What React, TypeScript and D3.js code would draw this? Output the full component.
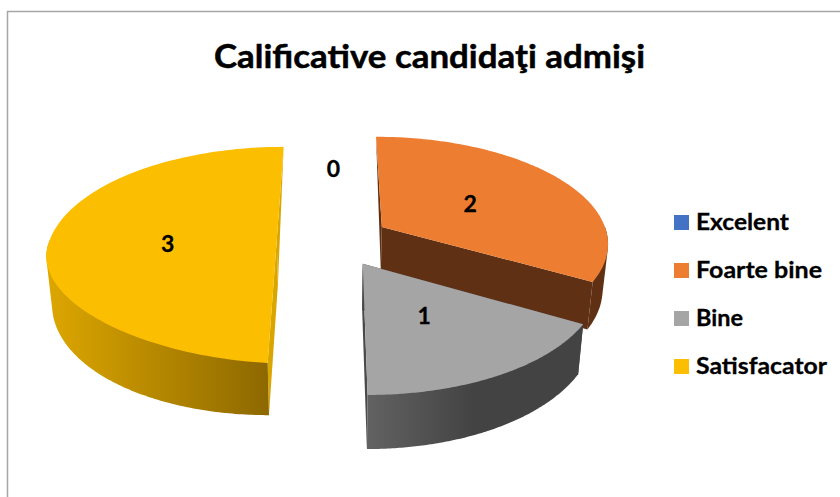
import React from "react";
import * as d3 from "d3";

const categories = ["Excelent", "Foarte bine", "Bine", "Satisfacator"];
const values = [0, 2, 1, 3];
const topColors = ["#4472C4", "#ED7D31", "#A5A5A5", "#FBBE00"];
const wallStops: string[][] = [
  ["#2A4A80", "#2A4A80"],
  ["#5F3013", "#5F3013"],
  ["#626262", "#434343", "#434343"],
  ["#DCA600", "#8D6800"],
];
const radialColors = ["#2A4A80", "#5F3013", "#4A4A4A", "#D9A600"];
const wallRanges: [number, number][] = [
  [0, 1],
  [585, 608],
  [367, 580],
  [50, 269],
];
const titleText = "Calificative candidaţi admişi";
const legendY = [230, 278, 326, 374];
const legendWidths = [93, 126, 47, 131];
const labelDy = [7, 9, 11, 12];

const W = 840;
const H = 497;
const X0 = 333.5;
const Y0 = 240;
const UX = 227;
const VY = 106;
const PERSP = 0.138;
const EXPLODE = 0.25;
const DEPTH = 45;
const BOTTOM_SCALE = 0.98;
const LABEL_R = 0.48;
const LEFT_FLATTEN = 14;

type P = [number, number];

function project(u: number, v: number, lower: boolean): P {
  const w = 1 - PERSP * v;
  const xTop = (UX * u) / w;
  const yTop = (VY * v) / w;
  if (lower) return [X0 + xTop * BOTTOM_SCALE, Y0 + yTop + DEPTH / w];
  const flatten = LEFT_FLATTEN * Math.max(0, v) * Math.max(0, -u - 0.25);
  return [X0 + xTop, Y0 + yTop - flatten];
}

const pieGen = d3
  .pie<number>()
  .sort(null)
  .value((d) => d);
const arcs = pieGen(values);
const line = d3.line<P>();

function offset(a: d3.PieArcDatum<number>): P {
  const mid = (a.startAngle + a.endAngle) / 2;
  return [EXPLODE * Math.sin(mid), -EXPLODE * Math.cos(mid)];
}
function onSlice(a: d3.PieArcDatum<number>, theta: number, r: number, lower: boolean): P {
  const [ou, ov] = offset(a);
  return project(ou + r * Math.sin(theta), ov - r * Math.cos(theta), lower);
}
function arcPts(a: d3.PieArcDatum<number>, from: number, to: number, lower: boolean): P[] {
  const n = 120;
  return d3.range(n + 1).map((i) => onSlice(a, from + ((to - from) * i) / n, 1, lower));
}

export default function App() {
  const font = "Lato, Carlito, sans-serif";
  return (
    <svg
      width={W}
      height={H}
      viewBox={`0 0 ${W} ${H}`}
      style={{ position: "fixed", left: 0, top: 0, background: "#fff" }}
    >
      <defs>
        {arcs.map((a, i) => (
          <linearGradient
            key={i}
            id={`wall${i}`}
            gradientUnits="userSpaceOnUse"
            x1={wallRanges[i][0]}
            x2={wallRanges[i][1]}
            y1={0}
            y2={0}
          >
            {wallStops[i].map((c, j) => (
              <stop key={j} offset={j / (wallStops[i].length - 1)} stopColor={c} />
            ))}
          </linearGradient>
        ))}
      </defs>
      <path d="M7.5,497 V11.5 H840" fill="none" stroke="#A6A6A6" strokeWidth={1.5} />
      <text
        x={429.5}
        y={68}
        textAnchor="middle"
        fontFamily={font}
        fontWeight={700}
        fontSize={33}
        textLength={431}
        lengthAdjust="spacingAndGlyphs"
        fill="#000"
        stroke="#000"
        strokeWidth={0.5}
      >
        {titleText}
      </text>
      {arcs.map((a, i) => {
        if (a.value === 0) return null;
        const apexT = onSlice(a, 0, 0, false);
        const apexB = onSlice(a, 0, 0, true);
        const top = arcPts(a, a.startAngle, a.endAngle, false);
        const face = (theta: number) => {
          const tEnd = onSlice(a, theta, 1, false);
          const bEnd = onSlice(a, theta, 1, true);
          const isBack = Math.cos(theta) > 0;
          const pts: P[] = isBack ? [tEnd, apexB, apexT] : [apexT, tEnd, bEnd, apexB];
          return (line(pts) as string) + "Z";
        };
        const frontFrom = Math.max(a.startAngle, Math.PI / 2);
        const frontTo = Math.min(a.endAngle, (3 * Math.PI) / 2);
        const wallHull = d3.polygonHull([
          ...arcPts(a, frontFrom, frontTo, false),
          ...arcPts(a, frontFrom, frontTo, true),
        ]) as P[];
        return (
          <g key={i}>
            <path d={face(a.startAngle)} fill={radialColors[i]} />
            <path d={face(a.endAngle)} fill={radialColors[i]} />
            <path d={(line(wallHull) as string) + "Z"} fill={`url(#wall${i})`} />
            <path d={(line([apexT, ...top]) as string) + "Z"} fill={topColors[i]} />
          </g>
        );
      })}
      {arcs.map((a, i) => {
        const mid = (a.startAngle + a.endAngle) / 2;
        const [x, y] = onSlice(a, mid, LABEL_R, false);
        return (
          <text
            key={i}
            x={x}
            y={y + labelDy[i]}
            textAnchor="middle"
            fontFamily={font}
            fontWeight={700}
            fontSize={23}
            fill="#000"
            stroke="#000"
            strokeWidth={0.3}
          >
            {a.value}
          </text>
        );
      })}
      {categories.map((c, i) => (
        <g key={c}>
          <rect x={674} y={legendY[i] - 15} width={15} height={15} fill={topColors[i]} />
          <text
            x={696}
            y={legendY[i]}
            fontFamily={font}
            fontWeight={700}
            fontSize={23}
            textLength={legendWidths[i]}
            lengthAdjust="spacingAndGlyphs"
            fill="#000"
            stroke="#000"
            strokeWidth={0.3}
          >
            {c}
          </text>
        </g>
      ))}
    </svg>
  );
}
